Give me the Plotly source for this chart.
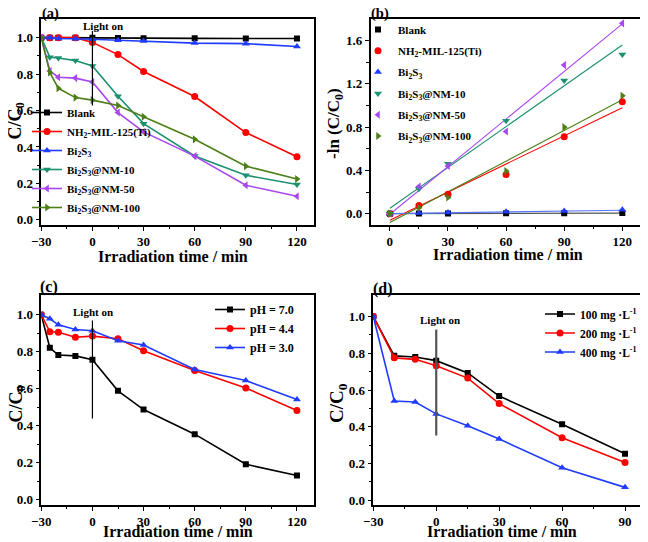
import plotly.graph_objects as go

FONT = "Liberation Serif"
# the page body adds an 8 px margin at the top-left; the figure is drawn 8 px
# smaller and all positions are given in window pixels, shifted by OFF
OFF = 8
W, H = 648 - OFF, 542 - OFF

# ---------------- data ----------------
# (a) degradation curves
t_a = [-30, -25, -20, -10, 0, 15, 30, 60, 90, 120]
a_blank = [1.0, 1.0, 1.0, 1.0, 1.0, 0.998, 0.997, 0.996, 0.995, 0.995]
a_nm = [1.0, 1.0, 1.0, 1.0, 0.974, 0.907, 0.814, 0.677, 0.479, 0.346]
a_bi2s3 = [1.0, 1.0, 0.995, 0.994, 0.991, 0.986, 0.981, 0.970, 0.967, 0.951]
a_nm10 = [1.0, 0.893, 0.888, 0.874, 0.845, 0.678, 0.528, 0.351, 0.245, 0.194]
a_nm50 = [1.0, 0.817, 0.783, 0.778, 0.757, 0.589, 0.483, 0.350, 0.190, 0.130]
a_nm100 = [1.0, 0.809, 0.722, 0.671, 0.657, 0.628, 0.566, 0.442, 0.295, 0.224]

# (b) kinetics
t_b = [0, 15, 30, 60, 90, 120]
b_blank = [0.0, 0.001, 0.002, 0.003, 0.004, 0.005]
b_nm = [0.0, 0.075, 0.180, 0.362, 0.712, 1.035]
b_bi2s3 = [0.0, 0.005, 0.010, 0.018, 0.025, 0.035]
b_nm10 = [0.0, 0.230, 0.462, 0.860, 1.232, 1.473]
b_nm50 = [0.0, 0.250, 0.440, 0.760, 1.374, 1.760]
b_nm100 = [0.0, 0.054, 0.150, 0.395, 0.800, 1.090]
# linear fits (value at t=0 and t=120)
fit_t = [0, 120]
fit_blank = [0.0, 0.005]
fit_nm = [-0.06, 0.98]
fit_bi2s3 = [0.0, 0.032]
fit_nm10 = [0.05, 1.56]
fit_nm50 = [-0.006, 1.755]
fit_nm100 = [-0.082, 1.054]

# (c) pH
t_c = [-30, -25, -20, -10, 0, 15, 30, 60, 90, 120]
c_ph70 = [1.0, 0.822, 0.783, 0.778, 0.757, 0.589, 0.488, 0.355, 0.192, 0.131]
c_ph44 = [1.0, 0.909, 0.906, 0.879, 0.885, 0.871, 0.806, 0.699, 0.605, 0.483]
c_ph30 = [1.0, 0.979, 0.946, 0.921, 0.914, 0.860, 0.837, 0.705, 0.645, 0.542]

# (d) dosage
t_d = [-30, -20, -10, 0, 15, 30, 60, 90]
d_100 = [1.0, 0.786, 0.780, 0.760, 0.693, 0.567, 0.414, 0.253]
d_200 = [1.0, 0.775, 0.767, 0.732, 0.665, 0.526, 0.340, 0.205]
d_400 = [1.0, 0.540, 0.535, 0.470, 0.405, 0.333, 0.177, 0.070]

light_on_t = 0
light_a = [0.628, 1.037]
light_c = [0.44, 0.97]
light_d = [0.353, 0.93]

labels_a = ["Blank", "NH<sub>2</sub>-MIL-125(Ti)", "Bi<sub>2</sub>S<sub>3</sub>",
            "Bi<sub>2</sub>S<sub>3</sub>@NM-10", "Bi<sub>2</sub>S<sub>3</sub>@NM-50",
            "Bi<sub>2</sub>S<sub>3</sub>@NM-100"]
labels_c = ["pH = 7.0", "pH = 4.4", "pH = 3.0"]
labels_d = ["100 mg ·L<sup>-1</sup>", "200 mg ·L<sup>-1</sup>", "400 mg ·L<sup>-1</sup>"]

# ---------------- styles ----------------
BLACK, RED, BLUE = "#000000", "#ff0000", "#1f3cff"
TEAL, PURPLE, OLIVE = "#1b9170", "#a846f0", "#4d7f17"
colors6 = [BLACK, RED, BLUE, TEAL, PURPLE, OLIVE]
symbols6 = ["square", "circle", "triangle-up", "triangle-down", "triangle-left", "triangle-right"]
sizes6 = [6, 7, 7, 7, 7, 7]

fig = go.Figure()

for lab, ys, c, s, sz in zip(labels_a, [a_blank, a_nm, a_bi2s3, a_nm10, a_nm50, a_nm100],
                             colors6, symbols6, sizes6):
    fig.add_trace(go.Scatter(x=t_a, y=ys, name=lab, mode="lines+markers",
                             line=dict(color=c, width=1.6),
                             marker=dict(symbol=s, size=sz, color=c),
                             xaxis="x", yaxis="y", legend="legend"))

fit_colors = ["#555555", RED, "#5a78ff", TEAL, PURPLE, OLIVE]
for i, fy in enumerate([fit_blank, fit_nm, fit_bi2s3, fit_nm10, fit_nm50, fit_nm100]):
    fig.add_trace(go.Scatter(x=fit_t, y=fy, mode="lines", showlegend=False,
                             line=dict(color=fit_colors[i], width=1.1),
                             xaxis="x2", yaxis="y2", hoverinfo="skip"))
for i, (lab, ys, c, s, sz) in enumerate(zip(
        labels_a, [b_blank, b_nm, b_bi2s3, b_nm10, b_nm50, b_nm100],
        colors6, symbols6, sizes6)):
    fig.add_trace(go.Scatter(x=t_b, y=ys, name=lab, mode="markers",
                             marker=dict(symbol=s, size=sz, color=c),
                             legendgroup="g%d" % i,
                             xaxis="x2", yaxis="y2", legend="legend2"))

for lab, ys, c, s, sz in zip(labels_c, [c_ph70, c_ph44, c_ph30],
                             [BLACK, RED, BLUE], ["square", "circle", "triangle-up"], [6, 7, 7]):
    fig.add_trace(go.Scatter(x=t_c, y=ys, name=lab, mode="lines+markers",
                             line=dict(color=c, width=1.6),
                             marker=dict(symbol=s, size=sz, color=c),
                             xaxis="x3", yaxis="y3", legend="legend3"))

for lab, ys, c, s, sz in zip(labels_d, [d_100, d_200, d_400],
                             [BLACK, RED, BLUE], ["square", "circle", "triangle-up"], [6, 7, 7]):
    fig.add_trace(go.Scatter(x=t_d, y=ys, name=lab, mode="lines+markers",
                             line=dict(color=c, width=1.6),
                             marker=dict(symbol=s, size=sz, color=c),
                             xaxis="x4", yaxis="y4", legend="legend4"))

tickfont = dict(family=FONT, size=13, color="black", weight="bold")


def xax(domain, anchor, rng, tick0):
    return dict(domain=domain, anchor=anchor, range=rng, tick0=tick0, dtick=30,
                ticks="outside", ticklen=4, tickwidth=1.2, tickcolor="black",
                minor=dict(ticks="outside", ticklen=2.5, tickwidth=1.2, dtick=15, tick0=tick0 + 15,
                           tickcolor="black"),
                showline=True, linewidth=1.5, linecolor="black", mirror=True,
                showgrid=False, zeroline=False, tickfont=tickfont, automargin=False)


def yax(domain, anchor, rng, dtick, minorvals):
    return dict(domain=domain, anchor=anchor, range=rng, tick0=0, dtick=dtick, tickformat=".1f",
                ticks="outside", ticklen=4, tickwidth=1.2, tickcolor="black",
                minor=dict(ticks="outside", ticklen=2.5, tickwidth=1.2, tickmode="array",
                           tickvals=minorvals, tickcolor="black"),
                showline=True, linewidth=1.5, linecolor="black", mirror=True,
                showgrid=False, zeroline=False, tickfont=tickfont, automargin=False)


def px(xp):
    return (xp - OFF) / W


def py(yp):
    return 1 - (yp - OFF) / H


top_dom = [py(225), py(18.5)]
bot_dom = [py(505), py(294.5)]
minor_c = [0.1, 0.3, 0.5, 0.7, 0.9]


def leg(x, y, size=11, gap=0, order="normal"):
    return dict(x=x, y=y, xanchor="left", yanchor="top", bgcolor="rgba(0,0,0,0)",
                font=dict(family=FONT, size=size, color="black", weight="bold"),
                itemwidth=30, tracegroupgap=gap, traceorder=order)


annots = []


def ann(text, x, y, size, angle=0, xref="paper", yref="paper"):
    annots.append(dict(text=text, x=x, y=y, xref=xref, yref=yref, showarrow=False,
                       xanchor="center", yanchor="middle", textangle=angle,
                       font=dict(family=FONT, size=size, color="black", weight="bold")))


ann("(a)", px(50), py(13.5), 14.5)
ann("(b)", px(380), py(13.5), 14.5)
ann("(c)", px(48.5), py(287), 16)
ann("(d)", px(382.5), py(288.5), 16)
xt = "Irradiation time / min"
ann(xt, px(173), py(257), 16)
ann(xt, px(508), py(254), 16)
ann(xt, px(178), py(531), 16)
ann(xt, px(502), py(531), 16)
ann("C/C<sub>0</sub>", px(16.5), py(121), 18, -90)
ann("-ln (C/C<sub>0</sub>)", px(335), py(124), 17, -90)
ann("C/C<sub>0</sub>", px(16.5), py(404), 18, -90)
ann("C/C<sub>0</sub>", px(338), py(403), 19, -90)
ann("Light on", 6, 1.064, 11, xref="x", yref="y")
ann("Light on", 0.6, 1.014, 11, xref="x3", yref="y3")
ann("Light on", 1.7, 0.982, 11, xref="x4", yref="y4")

shapes = [
    dict(type="line", xref="x", yref="y", x0=light_on_t, x1=light_on_t, y0=light_a[0], y1=light_a[1],
         line=dict(color="black", width=1.2)),
    dict(type="line", xref="x3", yref="y3", x0=light_on_t, x1=light_on_t, y0=light_c[0], y1=light_c[1],
         line=dict(color="black", width=1.2)),
    dict(type="line", xref="x4", yref="y4", x0=light_on_t, x1=light_on_t, y0=light_d[0], y1=light_d[1],
         line=dict(color="#555555", width=2.2)),
]

fig.update_layout(
    width=W, height=H, margin=dict(l=0, r=0, t=0, b=0, autoexpand=False),
    paper_bgcolor="white", plot_bgcolor="white",
    font=dict(family=FONT, color="black"),
    xaxis=xax([px(41.3), px(314)], "y", [-30, 130], -30),
    yaxis=yax(top_dom, "x", [-0.028, 1.105], 0.2, minor_c),
    xaxis2=xax([px(370.5), px(641.7)], "y2", [-10, 130], 0),
    yaxis2=yax(top_dom, "x2", [-0.105, 1.805], 0.4, [0.2, 0.6, 1.0, 1.4]),
    xaxis3=xax([px(41.3), px(314)], "y3", [-30, 130], -30),
    yaxis3=yax(bot_dom, "x3", [-0.028, 1.11], 0.2, minor_c),
    xaxis4=xax([px(373.3), px(646)], "y4", [-30, 100], -30),
    yaxis4=yax(bot_dom, "x4", [-0.026, 1.12], 0.2, minor_c),
    legend=leg(px(27), py(98)),
    legend2=leg(px(358), py(15), gap=2.3, order="grouped"),
    legend3=leg(px(210), py(295), size=12),
    legend4=leg(px(540), py(299.5), size=11.5),
    annotations=annots,
    shapes=shapes,
    showlegend=True,
)

fig.write_html("out.html")
